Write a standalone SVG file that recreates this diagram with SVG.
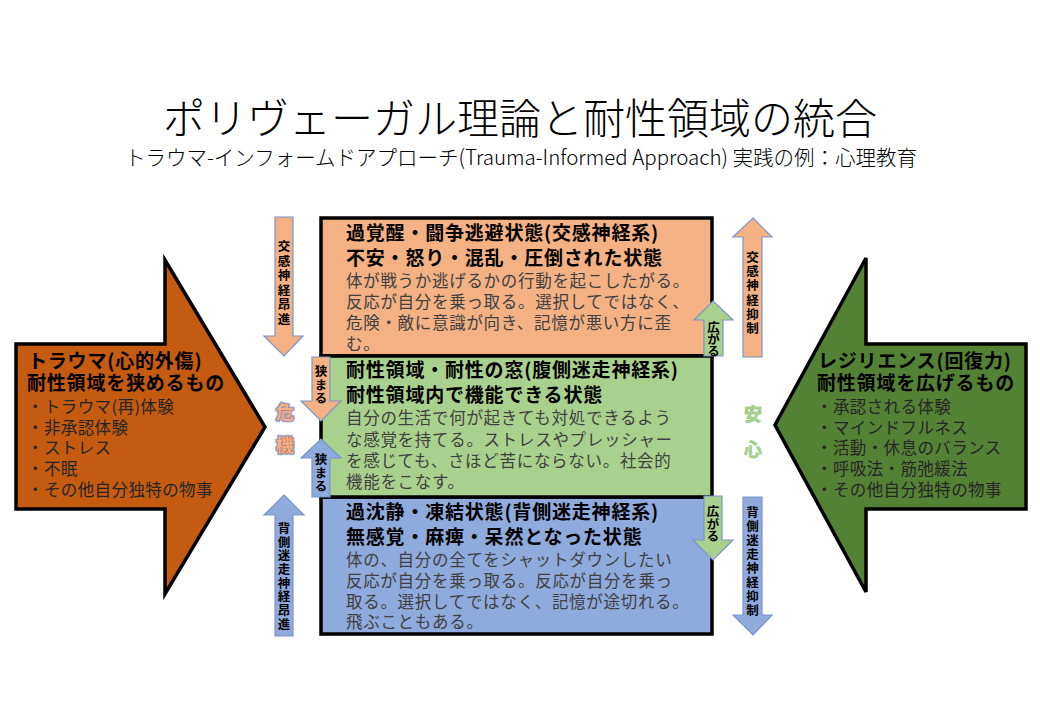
<svg xmlns="http://www.w3.org/2000/svg" width="1040" height="720" viewBox="0 0 1040 720">
<defs>
<style>
text{font-family:"Noto Sans CJK JP","Noto Sans",sans-serif;}
.ttl{font-size:42px;font-weight:300;fill:#000;}
.sub{font-size:21px;font-weight:300;fill:#000;}
.box{stroke:#000;stroke-width:3.5;}
.big{stroke:#000;stroke-width:3.5;stroke-linejoin:miter;}
.h{font-size:19px;font-weight:700;fill:#000;letter-spacing:0.8px;}
.b{font-size:16.5px;font-weight:400;fill:#404040;letter-spacing:0.7px;}
.bl{font-size:16.5px;font-weight:400;fill:#262626;letter-spacing:0.4px;}
.sa{stroke:#7A96C8;stroke-width:1.2;}
.v{font-size:12.5px;font-weight:700;fill:#000;writing-mode:vertical-rl;}
.kiki{font-size:18px;font-weight:700;fill:#F4B183;stroke:#C55A11;stroke-width:0.7;paint-order:stroke;text-anchor:middle;}
.anshin{font-size:18px;font-weight:700;fill:#A9D18E;stroke:#70AD47;stroke-width:0.5;paint-order:stroke;text-anchor:middle;}
</style>
<filter id="glowB" x="-30%" y="-30%" width="160%" height="160%">
<feMorphology in="SourceAlpha" operator="dilate" radius="1.2" result="d"/>
<feFlood flood-color="#8FAADC"/>
<feComposite in2="d" operator="in" result="g"/>
<feMerge><feMergeNode in="g"/><feMergeNode in="SourceGraphic"/></feMerge>
</filter>
</defs>
<rect width="1040" height="720" fill="#fff"/>

<g id="title">
<text class="ttl" x="520" y="134" text-anchor="middle">ポリヴェーガル理論と耐性領域の統合</text>
<text class="sub" x="125" y="165" textLength="792" lengthAdjust="spacingAndGlyphs">トラウマ-インフォームドアプローチ(Trauma-Informed Approach) 実践の例：心理教育</text>
</g>

<g id="trauma">
<path class="big" d="M16,344 H165 V260 L265,427 L165,594 V509 H16 Z" fill="#C55A11"/>
<text><tspan class="h" x="28" y="368">トラウマ(心的外傷)</tspan><tspan class="h" x="27" y="390">耐性領域を狭めるもの</tspan><tspan class="bl" x="27" y="413">・トラウマ(再)体験</tspan><tspan class="bl" x="27" y="434">・非承認体験</tspan><tspan class="bl" x="27" y="454">・ストレス</tspan><tspan class="bl" x="27" y="475">・不眠</tspan><tspan class="bl" x="27" y="496">・その他自分独特の物事</tspan></text>
</g>

<g id="resilience">
<path class="big" d="M1026,344 H866 V258 L775,425 L866,592 V509 H1026 Z" fill="#548235"/>
<text><tspan class="h" x="818" y="368">レジリエンス(回復力)</tspan><tspan class="h" x="817" y="390">耐性領域を広げるもの</tspan><tspan class="bl" x="816" y="413">・承認される体験</tspan><tspan class="bl" x="816" y="434">・マインドフルネス</tspan><tspan class="bl" x="816" y="454">・活動・休息のバランス</tspan><tspan class="bl" x="816" y="475">・呼吸法・筋弛緩法</tspan><tspan class="bl" x="816" y="496">・その他自分独特の物事</tspan></text>
</g>

<g id="hyperarousal">
<rect class="box" x="321" y="218" width="391" height="138" fill="#F4B183"/>
<text><tspan class="h" x="346" y="240">過覚醒・闘争逃避状態(交感神経系)</tspan><tspan class="h" x="346" y="265">不安・怒り・混乱・圧倒された状態</tspan><tspan class="b" x="346" y="287">体が戦うか逃げるかの行動を起こしたがる。</tspan><tspan class="b" x="346" y="308">反応が自分を乗っ取る。選択してではなく、</tspan><tspan class="b" x="346" y="329">危険・敵に意識が向き、記憶が悪い方に歪</tspan><tspan class="b" x="346" y="350">む。</tspan></text>
</g>

<g id="hypoarousal">
<rect class="box" x="321" y="497" width="391" height="137" fill="#8FAADC"/>
<text><tspan class="h" x="346" y="519">過沈静・凍結状態(背側迷走神経系)</tspan><tspan class="h" x="346" y="544">無感覚・麻痺・呆然となった状態</tspan><tspan class="b" x="346" y="566">体の、自分の全てをシャットダウンしたい</tspan><tspan class="b" x="346" y="587">反応が自分を乗っ取る。反応が自分を乗っ</tspan><tspan class="b" x="346" y="608">取る。選択してではなく、記憶が途切れる。</tspan><tspan class="b" x="346" y="628">飛ぶこともある。</tspan></text>
</g>

<g id="window">
<rect class="box" x="321" y="356" width="391" height="141" fill="#A9D18E"/>
<text><tspan class="h" x="346" y="377">耐性領域・耐性の窓(腹側迷走神経系)</tspan><tspan class="h" x="346" y="402">耐性領域内で機能できる状態</tspan><tspan class="b" x="346" y="424">自分の生活で何が起きても対処できるよう</tspan><tspan class="b" x="346" y="446">な感覚を持てる。ストレスやプレッシャー</tspan><tspan class="b" x="346" y="467">を感じても、さほど苦にならない。社会的</tspan><tspan class="b" x="346" y="488">機能をこなす。</tspan></text>
</g>

<g id="crisis" filter="url(#glowB)">
<text class="kiki" x="285" y="419">危</text>
<text class="kiki" x="285" y="452">機</text>
</g>

<g id="safety">
<text class="anshin" x="753" y="421">安</text>
<text class="anshin" x="753" y="456">心</text>
</g>

<g id="connectors">
<path class="sa" d="M275,217 H293 V336 H303 L284,356 L264,336 H275 Z" fill="#F4B183"/>
<text class="v" x="284" y="240" letter-spacing="2">交感神経昂進</text>

<path class="sa" d="M312,357 H330 V401 H341 L321,421 L301,401 H312 Z" fill="#F4B183"/>
<text class="v" x="321" y="365" letter-spacing="1">狭まる</text>

<path class="sa" d="M321,439 L341,458 H330 V497 H312 V458 H301 Z" fill="#8FAADC"/>
<text class="v" x="321" y="453" letter-spacing="1">狭まる</text>

<path class="sa" d="M284,495 L304,515 H293 V636 H275 V515 H264 Z" fill="#8FAADC"/>
<text class="v" x="284" y="522" letter-spacing="1.2">背側迷走神経昂進</text>

<path class="sa" d="M713,301 L733,320 H723 V356 H704 V320 H694 Z" fill="#A9D18E"/>
<text class="v" x="713.5" y="321" letter-spacing="-0.5" font-size="12">広がる</text>

<path class="sa" d="M753,218 L772,237 H762 V357 H743 V237 H733 Z" fill="#F4B183"/>
<text class="v" x="752.5" y="251" letter-spacing="1.7">交感神経抑制</text>

<path class="sa" d="M704,496 H722 V540 H733 L713,560 L693,540 H704 Z" fill="#A9D18E"/>
<text class="v" x="713" y="505" letter-spacing="0">広がる</text>

<path class="sa" d="M743,497 H762 V615 H772 L753,635 L733,615 H743 Z" fill="#8FAADC"/>
<text class="v" x="752.5" y="506" letter-spacing="1.5">背側迷走神経抑制</text>
</g>
</svg>
